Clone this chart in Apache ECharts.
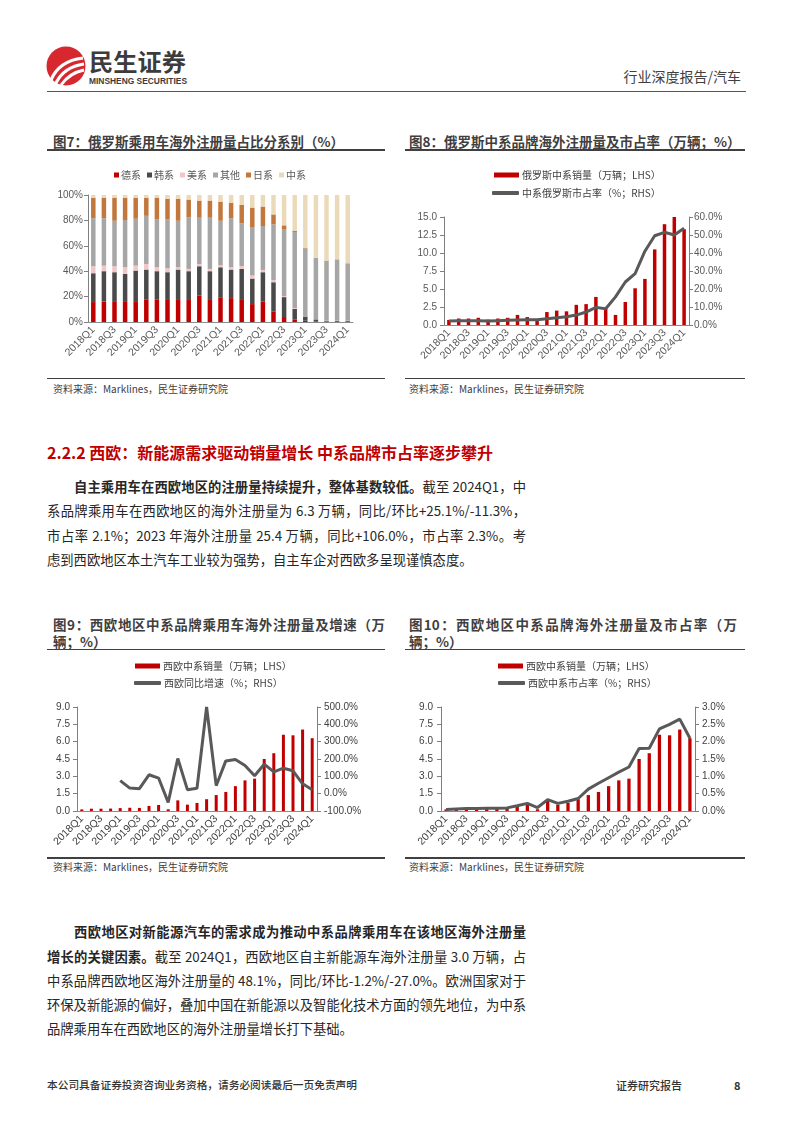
<!DOCTYPE html>
<html><head><meta charset="utf-8">
<script src="https://cdn.jsdelivr.net/npm/echarts/dist/echarts.min.js"></script>
<style>
body{margin:0;width:794px;height:1123px;background:#fff;position:relative;overflow:hidden;font-family:"Noto Sans CJK SC","Noto Sans",sans-serif;}
.t{position:absolute;white-space:nowrap;}
.hr{position:absolute;background:#404040;height:1.5px;}
.ttl{position:absolute;white-space:nowrap;font-size:13.5px;line-height:16px;font-weight:bold;color:#3f3f3f;}
.src{position:absolute;white-space:nowrap;font-size:10px;line-height:12px;color:#404040;}
.p{position:absolute;font-size:13.3px;line-height:16px;color:#262626;white-space:nowrap;}
.j{text-align:justify;text-align-last:justify;}
.chart{position:absolute;}
</style></head>
<body>
<svg style="position:absolute;left:0;top:0" width="200" height="95">
  <circle cx="66" cy="66" r="19.5" fill="#D7282F"/>
  <path d="M51,80 C56,68 66,60 83,58" stroke="#fff" stroke-width="3.2" fill="none"/>
  <path d="M56,83 C61,73 70,66 84,64" stroke="#fff" stroke-width="3.2" fill="none"/>
  <path d="M61,85 C66,78 74,72 84,70" stroke="#fff" stroke-width="3" fill="none"/>
  <text x="89" y="71" font-size="23.5" font-weight="bold" fill="#3c3c3c" font-family="Noto Sans CJK SC" textLength="97" lengthAdjust="spacingAndGlyphs">民生证券</text>
  <text x="89" y="83.5" font-size="8.5" font-weight="bold" fill="#3c3c3c" font-family="Liberation Sans" textLength="98" lengthAdjust="spacingAndGlyphs">MINSHENG SECURITIES</text>
</svg>
<div class="t" style="right:53px;top:67px;font-size:14px;line-height:18px;color:#404040;">行业深度报告/汽车</div>
<div class="hr" style="left:47px;top:90.5px;width:699px;background:#555;height:1.3px;"></div>

<div class="ttl" style="left:53px;top:133px;">图7：俄罗斯乘用车海外注册量占比分系别（%）</div>
<div class="hr" style="left:47px;top:149px;width:338px;"></div>
<div class="ttl" style="left:409px;top:133px;">图8：俄罗斯中系品牌海外注册量及市占率（万辆；%）</div>
<div class="hr" style="left:405px;top:149px;width:340px;"></div>

<div id="c7" class="chart" style="left:47px;top:155px;width:340px;height:222px;"></div>
<div id="c8" class="chart" style="left:405px;top:155px;width:340px;height:222px;"></div>

<div class="hr" style="left:47px;top:377.5px;width:338px;"></div>
<div class="hr" style="left:405px;top:377.5px;width:340px;"></div>
<div class="src" style="left:53px;top:383px;">资料来源：Marklines，民生证券研究院</div>
<div class="src" style="left:409px;top:383px;">资料来源：Marklines，民生证券研究院</div>

<div class="t" style="left:47px;top:443px;font-size:16px;line-height:18px;font-weight:bold;color:#C00000;">2.2.2 西欧：新能源需求驱动销量增长 中系品牌市占率逐步攀升</div>

<div class="p j" style="left:74px;top:479px;width:452px;"><b>自主乘用车在西欧地区的注册量持续提升，整体基数较低。</b>截至 2024Q1，中</div>
<div class="p j" style="left:47px;top:503px;width:479px;">系品牌乘用车在西欧地区的海外注册量为 6.3 万辆，同比/环比+25.1%/-11.3%，</div>
<div class="p j" style="left:47px;top:528px;width:479px;">市占率 2.1%；2023 年海外注册量 25.4 万辆，同比+106.0%，市占率 2.3%。考</div>
<div class="p" style="left:47px;top:552px;">虑到西欧地区本土汽车工业较为强势，自主车企对西欧多呈现谨慎态度。</div>

<div class="ttl j" style="left:53px;top:616px;width:332px;">图9：西欧地区中系品牌乘用车海外注册量及增速（万</div>
<div class="ttl" style="left:53px;top:633px;">辆；%）</div>
<div class="hr" style="left:47px;top:648.5px;width:338px;"></div>
<div class="ttl j" style="left:409px;top:616px;width:328px;">图10：西欧地区中系品牌海外注册量及市占率（万</div>
<div class="ttl" style="left:409px;top:633px;">辆；%）</div>
<div class="hr" style="left:405px;top:648.5px;width:340px;"></div>

<div id="c9" class="chart" style="left:47px;top:655px;width:340px;height:200px;"></div>
<div id="c10" class="chart" style="left:405px;top:655px;width:340px;height:200px;"></div>

<div class="hr" style="left:47px;top:857px;width:338px;"></div>
<div class="hr" style="left:405px;top:857px;width:340px;"></div>
<div class="src" style="left:53px;top:861px;">资料来源：Marklines，民生证券研究院</div>
<div class="src" style="left:409px;top:861px;">资料来源：Marklines，民生证券研究院</div>

<div class="p j" style="left:74px;top:924px;width:452px;"><b>西欧地区对新能源汽车的需求成为推动中系品牌乘用车在该地区海外注册量</b></div>
<div class="p j" style="left:47px;top:949px;width:479px;"><b>增长的关键因素。</b>截至 2024Q1，西欧地区自主新能源车海外注册量 3.0 万辆，占</div>
<div class="p j" style="left:47px;top:973px;width:479px;">中系品牌西欧地区海外注册量的 48.1%，同比/环比-1.2%/-27.0%。欧洲国家对于</div>
<div class="p j" style="left:47px;top:997px;width:479px;">环保及新能源的偏好，叠加中国在新能源以及智能化技术方面的领先地位，为中系</div>
<div class="p" style="left:47px;top:1021px;">品牌乘用车在西欧地区的海外注册量增长打下基础。</div>

<div class="t" style="left:47px;top:1078px;font-size:10.7px;line-height:14px;font-weight:500;color:#333;">本公司具备证券投资咨询业务资格，请务必阅读最后一页免责声明</div>
<div class="t" style="left:616px;top:1078px;font-size:11px;line-height:14px;font-weight:500;color:#333;">证券研究报告</div>
<div class="t" style="left:734px;top:1078px;font-size:11px;line-height:14px;font-weight:bold;color:#333;">8</div>

<script>
// ---------- data ----------
const quarters = ['2018Q1','2018Q2','2018Q3','2018Q4','2019Q1','2019Q2','2019Q3','2019Q4','2020Q1','2020Q2','2020Q3','2020Q4','2021Q1','2021Q2','2021Q3','2021Q4','2022Q1','2022Q2','2022Q3','2022Q4','2023Q1','2023Q2','2023Q3','2023Q4','2024Q1'];

// Fig 7: Russia registration share by brand origin (%)
const ruGerman = [15.7,16.2,16.4,16.4,16.4,17.5,17.5,18.0,18.0,18.0,20.9,18.0,19.0,18.8,18.0,14.1,16.2,8.1,3.9,2.1,1.0,0.5,0.3,0.2,0.2];
const ruKorean = [22.7,23.8,22.8,21.5,24.1,23.8,22.5,21.2,23.3,22.0,23.0,22.0,24.1,22.5,23.8,20.1,23.0,23.2,15.7,8.3,3.4,1.6,0.7,0.6,0.6];
const ruAmerican = [5.5,4.4,4.7,5.2,3.9,4.4,3.1,3.1,1.8,1.8,1.8,1.8,1.5,1.8,2.3,2.4,1.8,1.6,0.8,0.6,0.3,0.2,0.2,0.2,0.2];
const ruOther = [37.9,37.2,35.8,37.2,36.9,37.9,37.9,38.7,36.6,40.5,36.4,40.3,35.1,38.7,33.6,37.7,34.6,44.0,52.3,59.9,53.3,48.1,47.1,48.3,45.2];
const ruJapanese = [16.1,16.3,18.2,17.6,16.6,14.3,16.9,16.1,17.4,14.1,13.5,13.5,15.1,12.2,14.5,15.8,15.3,7.8,3.4,1.0,0.5,0.1,0.1,0.1,0.1];
const ruChinese = [2.1,2.1,2.1,2.1,2.1,2.1,2.1,2.9,2.9,3.6,4.4,4.4,5.2,6.0,7.8,9.9,9.1,15.3,23.9,28.1,41.5,49.5,51.6,50.6,53.7];
const fig7Names = ['德系','韩系','美系','其他','日系','中系'];

// Fig 8: Russia Chinese-brand sales (10k units) and share (%)
const ruCnSales = [0.7,0.9,0.9,1.0,0.75,0.9,1.0,1.4,1.1,0.7,1.8,2.0,1.9,2.8,2.9,3.9,2.3,1.4,3.2,5.1,6.4,10.5,14.0,15.0,13.3];
const ruCnShare = [2.2,2.4,2.4,2.4,2.2,2.4,2.6,2.8,2.9,2.9,3.5,4.0,4.6,5.5,7.2,9.8,9.0,15.6,23.9,28.5,41.0,49.6,51.5,50.0,53.8];

// Fig 9 / 10: Western Europe Chinese-brand sales (10k units), YoY (%), share (%)
const weCnSales = [0.14,0.2,0.2,0.21,0.25,0.28,0.27,0.44,0.52,0.15,0.92,0.55,0.7,1.02,1.38,1.65,2.15,2.65,2.8,4.5,5.0,6.6,6.55,7.05,6.3];
const weYoY = [null,null,null,null,75,32,29,109,90,-50,203,23,31,500,46,189,197,163,103,170,126,147,132,57,23];
const weShare = [0.04,0.06,0.07,0.07,0.08,0.08,0.09,0.15,0.22,0.1,0.33,0.22,0.28,0.36,0.63,0.8,0.96,1.12,1.27,1.8,1.81,2.37,2.5,2.65,2.1];

// axis ranges [min, max, interval]
const fig7Axis = [0,100,20];
const fig8Left = [0,15,2.5], fig8Right = [0,60,10];
const fig9Left = [0,9,1.5], fig9Right = [-100,500,100];
const fig10Left = [0,9,1.5], fig10Right = [0,3,0.5];

// ---------- charts ----------
const FONT = "'Liberation Sans','Noto Sans CJK SC',sans-serif";
const RED = '#C00000', LINE = '#595959';

function xAxisCfg(color){
  return {type:'category', data:quarters, boundaryGap:true,
    axisLine:{lineStyle:{color:'#8c8c8c'}}, axisTick:{show:false},
    axisLabel:{interval:1, rotate:45, fontSize:10.5, color:color, margin:6, fontFamily:FONT}};
}
function yAxisCfg(r, fmt, color, pos, margin){
  return {type:'value', position:pos, min:r[0], max:r[1], interval:r[2],
    axisLine:{show:true, lineStyle:{color:'#7f7f7f'}},
    axisTick:{show:true, length:4, lineStyle:{color:'#7f7f7f'}},
    splitLine:{show:false},
    axisLabel:{formatter:fmt, fontSize:10, color:color, margin:margin, fontFamily:FONT}};
}
const legText = {fontSize:10, color:'#404040', padding:[0,0,0,-2], fontFamily:"'Noto Sans CJK SC','Liberation Sans',sans-serif"};

// Fig 7
(function(){
  const c = echarts.init(document.getElementById('c7'), null, {renderer:'canvas'});
  const arrs = [ruGerman, ruKorean, ruAmerican, ruOther, ruJapanese, ruChinese];
  const cols = ['#C00000','#4A4A4A','#F2C6C6','#A6A6A6','#C2783C','#EBDAB9'];
  c.setOption({
    animation:false,
    legend:{left:67, top:15, padding:0, icon:'rect', itemWidth:5, itemHeight:5, itemGap:6,
      textStyle:{fontSize:10, color:'#595959', padding:[0,0,0,-3], fontFamily:legText.fontFamily}, data:fig7Names},
    grid:{left:41, top:40, width:265, height:127},
    xAxis:xAxisCfg('#595959'),
    yAxis:yAxisCfg(fig7Axis, '{value}%', '#595959', 'left', 5),
    series:fig7Names.map((n,i)=>({type:'bar', name:n, stack:'s', data:arrs[i], barWidth:4.5, itemStyle:{color:cols[i]}}))
  });
})();

// Fig 8
(function(){
  const c = echarts.init(document.getElementById('c8'));
  const n1 = '俄罗斯中系销量（万辆；LHS）', n2 = '中系俄罗斯市占率（%；RHS）';
  c.setOption({
    animation:false,
    legend:[
      {data:[n1], left:89, top:15, padding:0, icon:'rect', itemWidth:25, itemHeight:5, textStyle:legText},
      {data:[n2], left:87, top:33, padding:0, icon:'roundRect', itemWidth:27, itemHeight:4, textStyle:legText}
    ],
    grid:{left:39, top:62, width:245, height:108},
    xAxis:xAxisCfg('#595959'),
    yAxis:[
      yAxisCfg(fig8Left, v=>v.toFixed(1), '#595959', 'left', 7),
      yAxisCfg(fig8Right, v=>v.toFixed(1)+'%', '#595959', 'right', 5)
    ],
    series:[
      {type:'bar', name:n1, data:ruCnSales, barWidth:3.5, itemStyle:{color:RED}},
      {type:'line', name:n2, yAxisIndex:1, data:ruCnShare, showSymbol:false, symbol:'none', lineStyle:{width:3, color:LINE}, itemStyle:{color:LINE}}
    ]
  });
})();

// Fig 9
(function(){
  const c = echarts.init(document.getElementById('c9'));
  const n1 = '西欧中系销量（万辆；LHS）', n2 = '西欧同比增速（%；RHS）';
  c.setOption({
    animation:false,
    legend:[
      {data:[n1], left:88, top:6, padding:0, icon:'rect', itemWidth:25, itemHeight:5, textStyle:legText},
      {data:[n2], left:87, top:23, padding:0, icon:'roundRect', itemWidth:27, itemHeight:4, textStyle:legText}
    ],
    grid:{left:30, top:52, width:240, height:104},
    xAxis:xAxisCfg('#404040'),
    yAxis:[
      yAxisCfg(fig9Left, v=>v.toFixed(1), '#404040', 'left', 7),
      yAxisCfg(fig9Right, v=>v.toFixed(1)+'%', '#404040', 'right', 7)
    ],
    series:[
      {type:'bar', name:n1, data:weCnSales, barWidth:3, itemStyle:{color:RED}},
      {type:'line', name:n2, yAxisIndex:1, data:weYoY, showSymbol:false, symbol:'none', connectNulls:false, lineStyle:{width:3, color:LINE}, itemStyle:{color:LINE}}
    ]
  });
})();

// Fig 10
(function(){
  const c = echarts.init(document.getElementById('c10'));
  const n1 = '西欧中系销量（万辆；LHS）', n2 = '西欧中系市占率（%；RHS）';
  c.setOption({
    animation:false,
    legend:[
      {data:[n1], left:93, top:6, padding:0, icon:'rect', itemWidth:25, itemHeight:5, textStyle:legText},
      {data:[n2], left:93, top:23, padding:0, icon:'roundRect', itemWidth:27, itemHeight:4, textStyle:legText}
    ],
    grid:{left:36, top:52, width:254, height:104},
    xAxis:xAxisCfg('#404040'),
    yAxis:[
      yAxisCfg(fig10Left, v=>v.toFixed(1), '#404040', 'left', 8),
      yAxisCfg(fig10Right, v=>v.toFixed(1)+'%', '#404040', 'right', 7)
    ],
    series:[
      {type:'bar', name:n1, data:weCnSales, barWidth:3.3, itemStyle:{color:RED}},
      {type:'line', name:n2, yAxisIndex:1, data:weShare, showSymbol:false, symbol:'none', lineStyle:{width:3, color:LINE}, itemStyle:{color:LINE}}
    ]
  });
})();
</script>
</body></html>
